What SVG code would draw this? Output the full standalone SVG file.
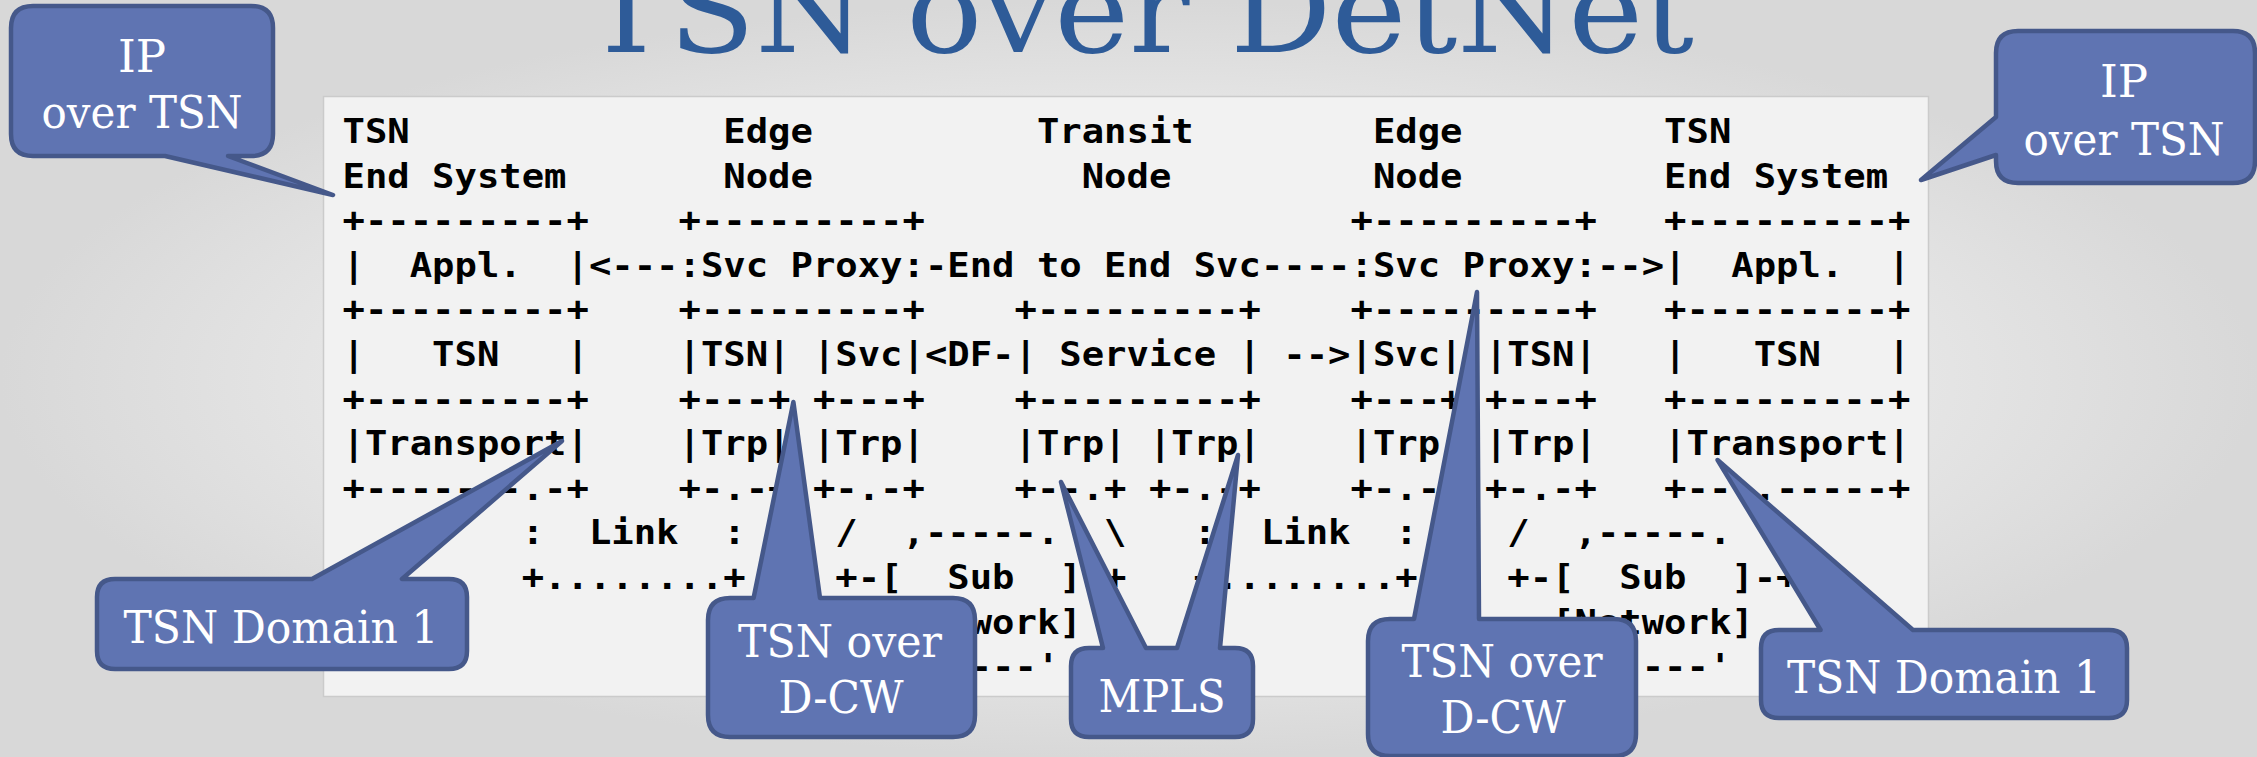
<svg xmlns="http://www.w3.org/2000/svg" width="2257" height="757" viewBox="0 0 2257 757">
<defs>
<radialGradient id="bg" cx="0.5" cy="0.5" r="0.5">
<stop offset="0" stop-color="#fbfbfb"/>
<stop offset="0.55" stop-color="#ececec"/>
<stop offset="1" stop-color="#d8d8d8"/>
</radialGradient>
<style>
.mono{font-family:"DejaVu Sans Mono","Liberation Mono",monospace;font-weight:bold;font-size:34.5px;fill:#000;white-space:pre}
.call{fill:#5f74b2;stroke:#45588a;stroke-width:4.5;stroke-linejoin:round}
.ct{font-family:"DejaVu Serif","Liberation Serif",serif;font-size:45px;fill:#fff;text-anchor:middle}
.title{font-family:"DejaVu Serif","Liberation Serif",serif;font-size:120px;fill:#2e5b98}
</style>
</defs>
<rect x="0" y="0" width="2257" height="757" fill="url(#bg)"/>
<text class="title" x="584" y="52" textLength="1110" lengthAdjust="spacingAndGlyphs">TSN over DetNet</text>
<rect id="panel" x="323.5" y="96.5" width="1605" height="600" fill="#f2f2f2" stroke="#cbcbcb" stroke-width="1.5"/>
<g id="ascii" xml:space="preserve">
<text class="mono" x="342.5" y="143" textLength="1388.8" lengthAdjust="spacingAndGlyphs">TSN              Edge          Transit        Edge         TSN</text>
<text class="mono" x="342.5" y="187.6" textLength="1545.6" lengthAdjust="spacingAndGlyphs">End System       Node            Node         Node         End System</text>
<text class="mono" x="342.5" y="232.2" textLength="1568" lengthAdjust="spacingAndGlyphs">+---------+    +---------+                   +---------+   +---------+</text>
<text class="mono" x="342.5" y="276.8" textLength="1568" lengthAdjust="spacingAndGlyphs">|  Appl.  |&lt;---:Svc Proxy:-End to End Svc----:Svc Proxy:--&gt;|  Appl.  |</text>
<text class="mono" x="342.5" y="321.4" textLength="1568" lengthAdjust="spacingAndGlyphs">+---------+    +---------+    +---------+    +---------+   +---------+</text>
<text class="mono" x="342.5" y="366" textLength="1568" lengthAdjust="spacingAndGlyphs">|   TSN   |    |TSN| |Svc|&lt;DF-| Service | --&gt;|Svc| |TSN|   |   TSN   |</text>
<text class="mono" x="342.5" y="410.6" textLength="1568" lengthAdjust="spacingAndGlyphs">+---------+    +---+ +---+    +---------+    +---+ +---+   +---------+</text>
<text class="mono" x="342.5" y="455.2" textLength="1568" lengthAdjust="spacingAndGlyphs">|Transport|    |Trp| |Trp|    |Trp| |Trp|    |Trp| |Trp|   |Transport|</text>
<text class="mono" x="342.5" y="499.8" textLength="1568" lengthAdjust="spacingAndGlyphs">+-------.-+    +-.-+ +-.-+    +--.+ +-.-+    +-.-+ +-.-+   +---.-----+</text>
<text class="mono" x="342.5" y="544.4" textLength="1388.8" lengthAdjust="spacingAndGlyphs">        :  Link  :    /  ,-----.  \   :  Link  :    /  ,-----.</text>
<text class="mono" x="342.5" y="589" textLength="1456" lengthAdjust="spacingAndGlyphs">        +........+    +-[  Sub  ]-+   +........+    +-[  Sub  ]-+</text>
<text class="mono" x="342.5" y="633.6" textLength="1411.2" lengthAdjust="spacingAndGlyphs">                        [Network]                     [Network]</text>
<text class="mono" x="342.5" y="678.2" textLength="1388.8" lengthAdjust="spacingAndGlyphs">                         `-----'                       `-----'</text>
</g>
<g id="callout-ip-left">
<path class="call" d="M33,6 H251 Q273,6 273,28 V134 Q273,156 251,156 H228 L333,195 L165,156 H33 Q11,156 11,134 V28 Q11,6 33,6 Z"/>
<text class="ct" x="142" y="72">IP</text>
<text class="ct" x="142" y="128" textLength="201" lengthAdjust="spacingAndGlyphs">over TSN</text>
</g>
<g id="callout-ip-right">
<path class="call" d="M2018,31 H2233 Q2255,31 2255,53 V161 Q2255,183 2233,183 H2018 Q1996,183 1996,161 V155 L1921,180 L1996,117 V53 Q1996,31 2018,31 Z"/>
<text class="ct" x="2124" y="97">IP</text>
<text class="ct" x="2124" y="155" textLength="201" lengthAdjust="spacingAndGlyphs">over TSN</text>
</g>
<g id="callout-domain-left">
<path class="call" d="M115,579 H312 L562,441 L402,579 H449 Q467,579 467,597 V651 Q467,669 449,669 H115 Q97,669 97,651 V597 Q97,579 115,579 Z"/>
<text class="ct" x="281" y="643" textLength="315" lengthAdjust="spacingAndGlyphs">TSN Domain 1</text>
</g>
<g id="callout-dcw-left">
<path class="call" d="M730,598 H753.6 L793.4,402 L820,598 H953 Q975,598 975,620 V715 Q975,737 953,737 H730 Q708,737 708,715 V620 Q708,598 730,598 Z"/>
<text class="ct" x="840" y="657" textLength="204" lengthAdjust="spacingAndGlyphs">TSN over</text>
<text class="ct" x="841" y="713" textLength="125" lengthAdjust="spacingAndGlyphs">D-CW</text>
</g>
<g id="callout-mpls">
<path class="call" d="M1089,648 H1103 L1061,482 L1146,648 H1177 L1238,455 L1220,648 H1235 Q1253,648 1253,666 V719 Q1253,737 1235,737 H1089 Q1071,737 1071,719 V666 Q1071,648 1089,648 Z"/>
<text class="ct" x="1162" y="712" textLength="127" lengthAdjust="spacingAndGlyphs">MPLS</text>
</g>
<g id="callout-dcw-right">
<path class="call" d="M1390,619 H1414 L1477,292 L1479,619 H1614 Q1636,619 1636,641 V734 Q1636,756 1614,756 H1390 Q1368,756 1368,734 V641 Q1368,619 1390,619 Z"/>
<text class="ct" x="1502" y="677" textLength="201" lengthAdjust="spacingAndGlyphs">TSN over</text>
<text class="ct" x="1503" y="733" textLength="125" lengthAdjust="spacingAndGlyphs">D-CW</text>
</g>
<g id="callout-domain-right">
<path class="call" d="M1779,630 H1820.6 L1717.6,460 L1913,630 H2109 Q2127,630 2127,648 V700 Q2127,718 2109,718 H1779 Q1761,718 1761,700 V648 Q1761,630 1779,630 Z"/>
<text class="ct" x="1944" y="693" textLength="314" lengthAdjust="spacingAndGlyphs">TSN Domain 1</text>
</g>
</svg>
